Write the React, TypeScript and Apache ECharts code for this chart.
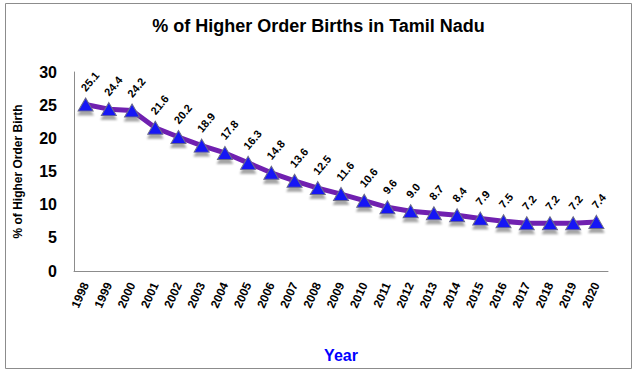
import React, { useEffect, useRef } from "react";
import * as echarts from "echarts";

const years = ["1998","1999","2000","2001","2002","2003","2004","2005","2006","2007","2008","2009","2010","2011","2012","2013","2014","2015","2016","2017","2018","2019","2020"];
const values = [25.1,24.4,24.2,21.6,20.2,18.9,17.8,16.3,14.8,13.6,12.5,11.6,10.6,9.6,9.0,8.7,8.4,7.9,7.5,7.2,7.2,7.2,7.4];
const titleText = "% of Higher Order Births in Tamil Nadu";
const yName = "% of Higher Order Birth";
const xName = "Year";

export default function App() {
  const ref = useRef<HTMLDivElement>(null);
  useEffect(() => {
    document.body.style.margin = "0";
    const chart = echarts.init(ref.current!, null, { renderer: "svg" });
    const font = "'Liberation Sans', Arial, sans-serif";
    chart.setOption({
      animation: false,
      backgroundColor: "#ffffff",
      textStyle: { fontFamily: font },
      title: {
        text: titleText,
        left: "center",
        top: 12,
        textStyle: { fontSize: 18, fontWeight: "bold", color: "#000", fontFamily: font },
      },
      graphic: [
        {
          type: "rect",
          shape: { x: 5.5, y: 3.5, width: 626, height: 365 },
          style: { fill: "none", stroke: "#8c8c8c", lineWidth: 1 },
          silent: true,
        },
      ],
      grid: { left: 74, right: 29, top: 72, bottom: 102 },
      xAxis: {
        type: "category",
        data: years,
        boundaryGap: true,
        name: xName,
        nameLocation: "middle",
        nameGap: 76,
        nameTextStyle: { color: "#0000ff", fontSize: 16, fontWeight: "bold", fontFamily: font },
        axisLine: { lineStyle: { color: "#8c8c8c", width: 1 } },
        axisTick: { show: false },
        axisLabel: { rotate: 66, fontSize: 12, fontWeight: "bold", color: "#000", margin: 12, interval: 0, fontFamily: font },
        splitLine: { show: false },
      },
      yAxis: {
        type: "value",
        min: 0,
        max: 30,
        interval: 5,
        name: yName,
        nameLocation: "middle",
        nameGap: 50,
        nameTextStyle: { color: "#000", fontSize: 12, fontWeight: "bold", fontFamily: font },
        axisLine: { show: true, lineStyle: { color: "#8c8c8c", width: 1 } },
        axisTick: { show: false },
        axisLabel: { fontSize: 16, fontWeight: "bold", color: "#000", margin: 17, fontFamily: font },
        splitLine: { show: false },
      },
      series: [
        {
          type: "line",
          data: values,
          symbol: "triangle",
          symbolSize: [15, 13],
          lineStyle: { color: "#7020b0", width: 5 },
          itemStyle: {
            color: "#1515f5",
            borderColor: "#6a6a8a",
            borderWidth: 1,
            shadowColor: "rgba(0,0,0,0.35)",
            shadowBlur: 2,
            shadowOffsetY: 4,
          },
          label: {
            show: true,
            position: "top",
            distance: 11,
            offset: [-4, 0],
            rotate: 50,
            align: "left",
            verticalAlign: "middle",
            fontSize: 11,
            fontWeight: "bold",
            color: "#000",
            fontFamily: font,
            formatter: (p: any) => Number(p.value).toFixed(1),
          },
        },
      ],
    });
    return () => chart.dispose();
  }, []);
  return <div ref={ref} style={{ width: 637, height: 373 }} />;
}
